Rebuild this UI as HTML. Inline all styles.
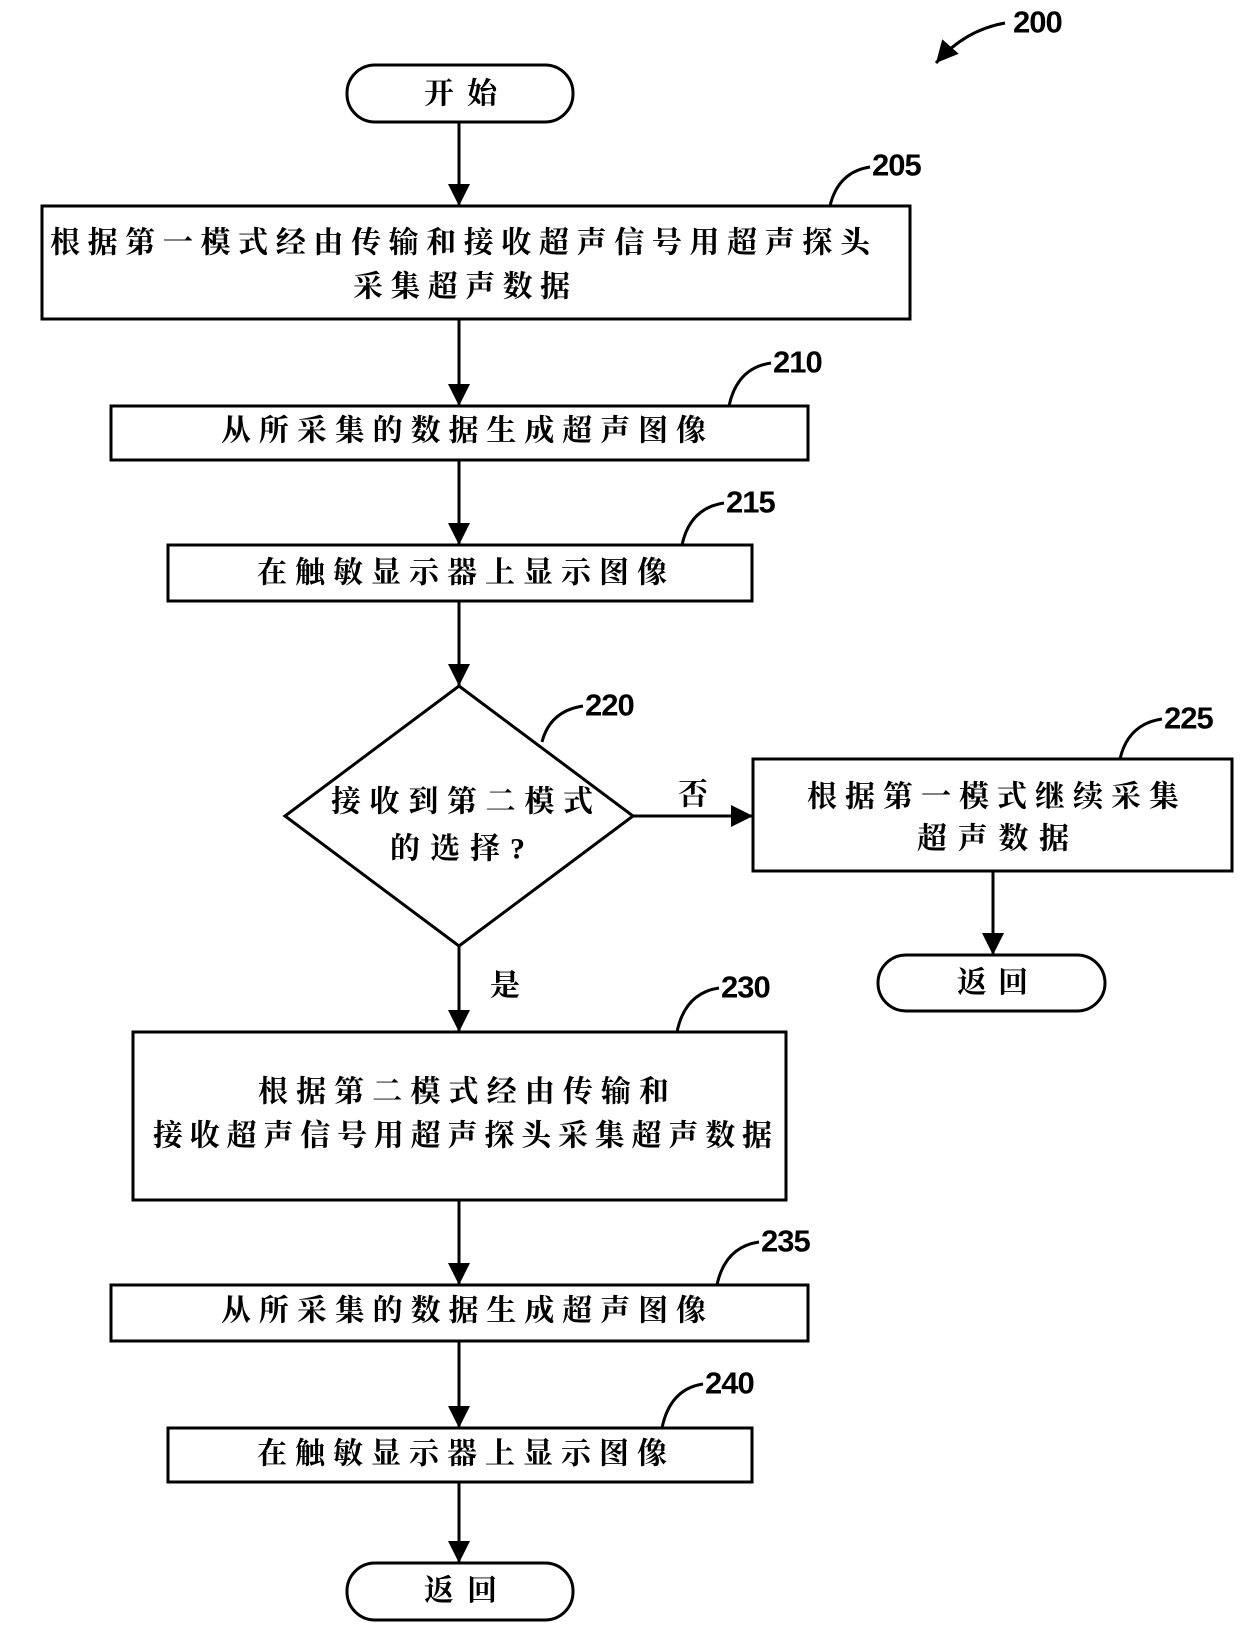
<!DOCTYPE html>
<html><head><meta charset="utf-8"><style>html,body{margin:0;padding:0;background:#fff}svg{display:block}</style></head>
<body>
<svg width="1240" height="1632" viewBox="0 0 1240 1632" xmlns="http://www.w3.org/2000/svg">
<defs><marker id="a" markerWidth="10" markerHeight="10" refX="9" refY="5" orient="auto" markerUnits="userSpaceOnUse" viewBox="0 0 10 10"><path d="M0,0 L10,5 L0,10 z" fill="#000"/></marker>
<marker id="b" viewBox="0 0 10 10" refX="10" refY="5" markerWidth="22" markerHeight="22" orient="auto" markerUnits="userSpaceOnUse"><path d="M0,0 L10,5 L0,10 z" fill="#000"/></marker></defs>
<g fill="none" stroke="#000" stroke-width="3">
<rect x="347" y="65" width="226" height="57" rx="28"/>
<rect x="42" y="206" width="868" height="113"/>
<rect x="111" y="406" width="697" height="54"/>
<rect x="168" y="545" width="584" height="56"/>
<polygon points="459,686 633,816 459,946 285,816"/>
<rect x="753" y="759" width="479" height="112"/>
<rect x="878" y="955" width="227" height="56" rx="28"/>
<rect x="133" y="1032" width="653" height="168"/>
<rect x="111" y="1285" width="697" height="56"/>
<rect x="168" y="1428" width="584" height="54"/>
<rect x="347" y="1563" width="226" height="57" rx="28"/>
<g marker-end="url(#b)">
<line x1="459" y1="122" x2="459" y2="206"/>
<line x1="459" y1="319" x2="459" y2="406"/>
<line x1="459" y1="460" x2="459" y2="545"/>
<line x1="459" y1="601" x2="459" y2="686"/>
<line x1="633" y1="816" x2="753" y2="816"/>
<line x1="993" y1="871" x2="993" y2="955"/>
<line x1="459" y1="946" x2="459" y2="1032"/>
<line x1="459" y1="1200" x2="459" y2="1285"/>
<line x1="459" y1="1341" x2="459" y2="1428"/>
<line x1="459" y1="1482" x2="459" y2="1563"/>
<path d="M1005,23 Q965,30 936,63"/>
</g>
<path d="M830,206 Q838,172 870,167"/>
<path d="M729,406 Q737,368 771,363"/>
<path d="M682,545 Q690,508 724,503"/>
<path d="M542,742 Q550,711 583,706"/>
<path d="M1120,759 Q1128,724 1162,719"/>
<path d="M677,1032 Q685,993 719,988"/>
<path d="M717,1285 Q725,1247 759,1242"/>
<path d="M662,1428 Q670,1389 703,1384"/>
</g>
<g font-family="Liberation Sans, sans-serif" font-size="31" font-weight="bold" dominant-baseline="central" style="letter-spacing:-1px">
<text x="1013" y="22">200</text>
<text x="872" y="165">205</text>
<text x="773" y="362">210</text>
<text x="726" y="502">215</text>
<text x="585" y="705">220</text>
<text x="1164" y="718">225</text>
<text x="721" y="987">230</text>
<text x="761" y="1241">235</text>
<text x="705" y="1383">240</text>
</g>
<g font-family="Liberation Serif, 'Noto Serif CJK SC', serif" font-size="30" font-weight="bold" dominant-baseline="central" lengthAdjust="spacing">
<text x="424" y="94" textLength="73" lengthAdjust="spacing">开始</text>
<text x="50" y="243" textLength="820" lengthAdjust="spacing">根据第一模式经由传输和接收超声信号用超声探头</text>
<text x="353" y="287" textLength="217" lengthAdjust="spacing">采集超声数据</text>
<text x="221" y="431" textLength="485" lengthAdjust="spacing">从所采集的数据生成超声图像</text>
<text x="257" y="573" textLength="410" lengthAdjust="spacing">在触敏显示器上显示图像</text>
<text x="331" y="802" textLength="262" lengthAdjust="spacing">接收到第二模式</text>
<text x="390" y="849" textLength="135" lengthAdjust="spacing">的选择?</text>
<text x="807" y="797" textLength="372" lengthAdjust="spacing">根据第一模式继续采集</text>
<text x="917" y="839" textLength="152" lengthAdjust="spacing">超声数据</text>
<text x="957" y="983" textLength="71" lengthAdjust="spacing">返回</text>
<text x="678" y="795">否</text>
<text x="490" y="986">是</text>
<text x="258" y="1092" textLength="411" lengthAdjust="spacing">根据第二模式经由传输和</text>
<text x="153" y="1136" textLength="619" lengthAdjust="spacing">接收超声信号用超声探头采集超声数据</text>
<text x="221" y="1311" textLength="485" lengthAdjust="spacing">从所采集的数据生成超声图像</text>
<text x="257" y="1454" textLength="410" lengthAdjust="spacing">在触敏显示器上显示图像</text>
<text x="424" y="1591" textLength="73" lengthAdjust="spacing">返回</text>
</g>
</svg>
</body></html>
